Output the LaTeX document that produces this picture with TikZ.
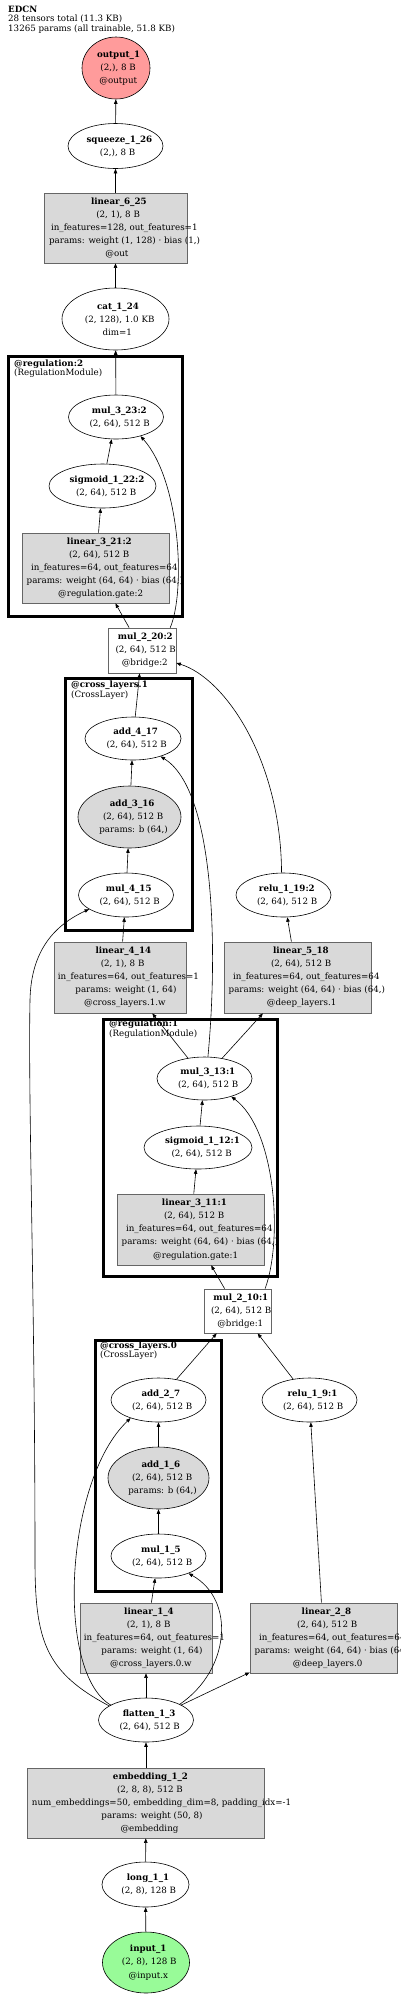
\documentclass[tikz,border=0pt]{standalone}
\usepackage{fontspec}
\setmainfont{DejaVu Serif}
\usetikzlibrary{arrows.meta,shapes.geometric}
\definecolor{OutPink}{HTML}{FF9B9B}
\definecolor{InGreen}{HTML}{98FB98}
\definecolor{ModGray}{HTML}{D9D9D9}
\newcommand\nodefont{\fontsize{8.7}{13.1}\selectfont}
\newcommand\labfont{\fontsize{8.7}{9.6}\selectfont}
% one label line, set the way graphviz lets it run over to the right
\newcommand\gl[1]{\makebox[0pt]{\makebox[0.88\width][l]{#1}}}
\begin{document}
\begin{tikzpicture}[x=1pt,y=-1pt]
    \tikzset{op/.style={draw,ellipse,inner sep=0pt,line width=0.6pt,font=\nodefont,align=center},
      mod/.style={draw=black!60,fill=ModGray,inner sep=0pt,line width=0.7pt,font=\nodefont,align=center},
      bridge/.style={mod,fill=white},
      sz/.style 2 args={minimum width=#1pt,minimum height=#2pt},
      grp/.style={line width=3pt},
      grplabel/.style={anchor=north west,inner sep=0pt,align=left,font=\labfont},
      edge/.style={-{Triangle[length=4.5pt,width=3.5pt]},line width=0.6pt}}
    \useasboundingbox (0,0) rectangle (400,1998);
    \node[grplabel] (title) at (8,5.5)
      {\textbf{EDCN}\\28 tensors total (11.3 KB)\\13265 params (all trainable, 51.8 KB)};
    % head
    \node[op,sz={68}{62},fill=OutPink] (out1) at (116,68)
      {\gl{\textbf{output\_1}}\\\gl{(2,), 8 B}\\\gl{@output}};
    \node[op,sz={95}{45}] (squeeze) at (115.5,146)
      {\gl{\textbf{squeeze\_1\_26}}\\\gl{(2,), 8 B}};
    \node[mod,sz={143}{70}] (lin6) at (115.5,228)
      {\gl{\textbf{linear\_6\_25}}\\\gl{(2, 1), 8 B}\\\gl{in\_features=128, out\_features=1}\\
       \gl{params: weight (1, 128) · bias (1,)}\\\gl{@out}};
    \node[op,sz={107}{62}] (cat) at (115.5,319)
      {\gl{\textbf{cat\_1\_24}}\\\gl{(2, 128), 1.0 KB}\\\gl{dim=1}};
    % regulation 2
    \node[op,sz={95}{44}] (mul323) at (116,417)
      {\gl{\textbf{mul\_3\_23:2}}\\\gl{(2, 64), 512 B}};
    \node[op,sz={107}{44}] (sig122) at (102.5,486)
      {\gl{\textbf{sigmoid\_1\_22:2}}\\\gl{(2, 64), 512 B}};
    \node[mod,sz={147}{70}] (lin321) at (95.5,568)
      {\gl{\textbf{linear\_3\_21:2}}\\\gl{(2, 64), 512 B}\\\gl{in\_features=64, out\_features=64}\\
       \gl{params: weight (64, 64) · bias (64,)}\\\gl{@regulation.gate:2}};
    \node[bridge,sz={68}{45}] (mul220) at (142,650.5)
      {\gl{\textbf{mul\_2\_20:2}}\\\gl{(2, 64), 512 B}\\\gl{@bridge:2}};
    % cross layer 1 and deep layer 1
    \node[op,sz={96}{43}] (add417) at (133,738.5)
      {\gl{\textbf{add\_4\_17}}\\\gl{(2, 64), 512 B}};
    \node[op,sz={103}{62},fill=ModGray] (add316) at (129.5,817)
      {\gl{\textbf{add\_3\_16}}\\\gl{(2, 64), 512 B}\\\gl{params: b (64,)}};
    \node[op,sz={95}{44}] (mul415) at (126,895)
      {\gl{\textbf{mul\_4\_15}}\\\gl{(2, 64), 512 B}};
    \node[op,sz={95}{44}] (relu119) at (283.5,895)
      {\gl{\textbf{relu\_1\_19:2}}\\\gl{(2, 64), 512 B}};
    \node[mod,sz={132}{71}] (lin414) at (120,977.5)
      {\gl{\textbf{linear\_4\_14}}\\\gl{(2, 1), 8 B}\\\gl{in\_features=64, out\_features=1}\\
       \gl{params: weight (1, 64)}\\\gl{@cross\_layers.1.w}};
    \node[mod,sz={147}{71}] (lin518) at (297.5,977.5)
      {\gl{\textbf{linear\_5\_18}}\\\gl{(2, 64), 512 B}\\\gl{in\_features=64, out\_features=64}\\
       \gl{params: weight (64, 64) · bias (64,)}\\\gl{@deep\_layers.1}};
    % regulation 1
    \node[op,sz={95}{43}] (mul313) at (204.5,1078.5)
      {\gl{\textbf{mul\_3\_13:1}}\\\gl{(2, 64), 512 B}};
    \node[op,sz={108}{43}] (sig112) at (198,1147.5)
      {\gl{\textbf{sigmoid\_1\_12:1}}\\\gl{(2, 64), 512 B}};
    \node[mod,sz={147}{71}] (lin311) at (190.5,1229.5)
      {\gl{\textbf{linear\_3\_11:1}}\\\gl{(2, 64), 512 B}\\\gl{in\_features=64, out\_features=64}\\
       \gl{params: weight (64, 64) · bias (64,)}\\\gl{@regulation.gate:1}};
    \node[bridge,sz={67}{44}] (mul210) at (237.5,1311)
      {\gl{\textbf{mul\_2\_10:1}}\\\gl{(2, 64), 512 B}\\\gl{@bridge:1}};
    % cross layer 0 and deep layer 0
    \node[op,sz={95}{44}] (add27) at (158.5,1400)
      {\gl{\textbf{add\_2\_7}}\\\gl{(2, 64), 512 B}};
    \node[op,sz={101}{62},fill=ModGray] (add16) at (158.5,1478)
      {\gl{\textbf{add\_1\_6}}\\\gl{(2, 64), 512 B}\\\gl{params: b (64,)}};
    \node[op,sz={95}{44}] (mul15) at (158.5,1556)
      {\gl{\textbf{mul\_1\_5}}\\\gl{(2, 64), 512 B}};
    \node[op,sz={95}{44}] (relu19) at (309.5,1400)
      {\gl{\textbf{relu\_1\_9:1}}\\\gl{(2, 64), 512 B}};
    \node[mod,sz={132}{70}] (lin14) at (146,1638)
      {\gl{\textbf{linear\_1\_4}}\\\gl{(2, 1), 8 B}\\\gl{in\_features=64, out\_features=1}\\
       \gl{params: weight (1, 64)}\\\gl{@cross\_layers.0.w}};
    \node[mod,sz={147}{70}] (lin28) at (323.5,1638)
      {\gl{\textbf{linear\_2\_8}}\\\gl{(2, 64), 512 B}\\\gl{in\_features=64, out\_features=64}\\
       \gl{params: weight (64, 64) · bias (64,)}\\\gl{@deep\_layers.0}};
    % stem
    \node[op,sz={95}{44}] (flat) at (146,1720)
      {\gl{\textbf{flatten\_1\_3}}\\\gl{(2, 64), 512 B}};
    \node[mod,sz={237}{70}] (emb) at (146,1803)
      {\gl{\textbf{embedding\_1\_2}}\\\gl{(2, 8, 8), 512 B}\\\gl{num\_embeddings=50, embedding\_dim=8, padding\_idx=-1}\\
       \gl{params: weight (50, 8)}\\\gl{@embedding}};
    \node[op,sz={87}{45}] (long1) at (145.5,1884.5)
      {\gl{\textbf{long\_1\_1}}\\\gl{(2, 8), 128 B}};
    \node[op,sz={87}{61},fill=InGreen] (input1) at (146,1962.5)
      {\gl{\textbf{input\_1}}\\\gl{(2, 8), 128 B}\\\gl{@input.x}};
    % module boxes
    \draw[grp] (8.5,356.5) rectangle (182.5,616.5);
    \node[grplabel] (lreg2) at (14,359.5) {\textbf{@regulation:2}\\(RegulationModule)};
    \draw[grp] (65.5,678.5) rectangle (192.5,930.5);
    \node[grplabel] (lcross1) at (71,681) {\textbf{@cross\_layers.1}\\(CrossLayer)};
    \draw[grp] (103.5,1019.5) rectangle (277.5,1276.5);
    \node[grplabel] (lreg1) at (109,1020) {\textbf{@regulation:1}\\(RegulationModule)};
    \draw[grp] (95.5,1340.5) rectangle (221.5,1591.5);
    \node[grplabel] (lcross0) at (100,1341.5) {\textbf{@cross\_layers.0}\\(CrossLayer)};
    % edges
    \draw[edge] (squeeze) -- (out1);
    \draw[edge] (lin6) -- (squeeze);
    \draw[edge] (cat) -- (lin6);
    \draw[edge] (mul323) -- (cat);
    \draw[edge] (sig122) -- (mul323);
    \draw[edge] (lin321) -- (sig122);
    \draw[edge] (mul220) -- (lin321);
    \draw[edge] (mul220.39) .. controls (186,590) and (180,480) .. (mul323.-38);
    \draw[edge] (add417) -- (mul220);
    \draw[edge] (relu119.95) .. controls (281,760) and (225,678) .. (mul220.-20);
    \draw[edge] (add316) -- (add417);
    \draw[edge] (mul415) -- (add316);
    \draw[edge] (lin414) -- (mul415);
    \draw[edge] (lin518) -- (relu119);
    \draw[edge] (mul313.81) .. controls (218,950) and (215,790) .. (add417.-33);
    \draw[edge] (mul313.129) -- (lin414.-48);
    \draw[edge] (mul313.49) -- (lin518.-134);
    \draw[edge] (sig112) -- (mul313);
    \draw[edge] (lin311) -- (sig112);
    \draw[edge] (mul210) -- (lin311);
    \draw[edge] (mul210.39) .. controls (283,1240) and (276,1130) .. (mul313.-34);
    \draw[edge] (add27.49) -- (mul210.-133);
    \draw[edge] (relu19.128) -- (mul210.-48);
    \draw[edge] (add16) -- (add27);
    \draw[edge] (mul15) -- (add16);
    \draw[edge] (lin14) -- (mul15);
    \draw[edge] (lin28) -- (relu19);
    \draw[edge] (flat) -- (lin14);
    \draw[edge] (flat.23) -- (lin28.-155);
    \draw[edge] (flat.25) .. controls (230,1670) and (236,1600) .. (mul15.-30);
    \draw[edge] (flat.157) .. controls (55,1672) and (65,1480) .. (add27.-147);
    \draw[edge] (flat.159) .. controls (45,1672) and (35,1640) .. (35,1560)
      .. controls (35,1300) and (28,1100) .. (30,1000) .. controls (31,950) and (55,925) .. (mul415.-159);
    \draw[edge] (emb) -- (flat);
    \draw[edge] (long1) -- (emb);
    \draw[edge] (input1) -- (long1);
  \end{tikzpicture}
\end{document}
